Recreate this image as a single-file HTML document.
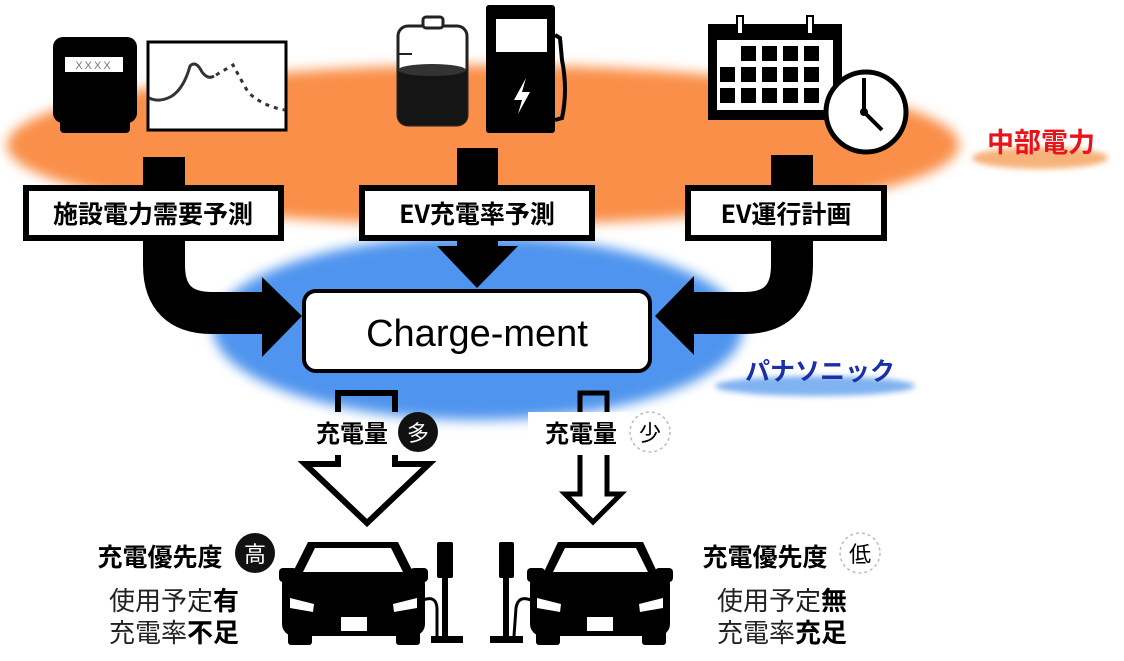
<!DOCTYPE html>
<html><head><meta charset="utf-8"><style>
html,body{margin:0;padding:0;background:#fff}
svg{display:block}
text{font-family:"Liberation Sans","Noto Sans CJK JP",sans-serif}
.j{font-family:"Noto Sans CJK JP","Liberation Sans",sans-serif}
</style></head><body>
<svg width="1124" height="661" viewBox="0 0 1124 661" xmlns="http://www.w3.org/2000/svg">
<defs>
<filter id="b" x="-20%" y="-40%" width="140%" height="180%"><feGaussianBlur stdDeviation="6"/></filter>
<filter id="b2" x="-20%" y="-50%" width="140%" height="200%"><feGaussianBlur stdDeviation="3"/></filter>
</defs>
<ellipse cx="483" cy="145" rx="476" ry="80" fill="#f98f48" filter="url(#b)"/>
<ellipse cx="1040" cy="158" rx="68" ry="11" fill="#f7b27a" filter="url(#b2)"/>
<ellipse cx="478" cy="328" rx="265" ry="92" fill="#4f94ee" filter="url(#b)"/>
<ellipse cx="815" cy="386" rx="100" ry="10" fill="#7fb2f0" filter="url(#b2)"/>

<!-- meter -->
<rect x="53" y="37" width="84" height="86" rx="10" fill="#000"/>
<rect x="60" y="110" width="70" height="23" rx="4" fill="#000"/>
<rect x="65" y="57" width="58" height="15" fill="#fff"/>
<text x="94" y="69" font-size="11" fill="#777" text-anchor="middle" letter-spacing="2">XXXX</text>
<!-- chart -->
<rect x="148" y="42" width="138" height="88" fill="#fff" stroke="#000" stroke-width="3"/>
<path d="M149 98 Q160 103 172 96 Q184 88 190 66 Q196 60 202 72 Q208 80 214 76" fill="none" stroke="#333" stroke-width="3"/>
<path d="M216 75 L233 65 Q240 78 248 92 Q262 106 285 110" fill="none" stroke="#333" stroke-width="3" stroke-dasharray="4 5"/>
<!-- battery -->
<rect x="398" y="26" width="69" height="99" rx="10" fill="#fff" stroke="#222" stroke-width="3"/>
<rect x="423" y="17" width="20" height="11" rx="3" fill="#fff" stroke="#222" stroke-width="3"/>
<path d="M398 70 Q432 62 467 70 L467 115 Q467 125 457 125 L408 125 Q398 125 398 115 Z" fill="#151515"/>
<ellipse cx="432" cy="70" rx="34" ry="6" fill="#333"/>
<line x1="398" y1="54" x2="412" y2="54" stroke="#222" stroke-width="2"/>
<!-- pump -->
<rect x="486" y="5" width="69" height="128" rx="3" fill="#000"/>
<rect x="496" y="19" width="51" height="33" fill="#fff"/>
<path d="M526 78 L514 100 L522 100 L518 114 L530 92 L522 92 Z" fill="#fff"/>
<path d="M555 35 L560 38 L562 60 Q568 90 562 118 L555 120" fill="none" stroke="#000" stroke-width="4"/>
<!-- calendar -->
<rect x="708" y="24" width="134" height="96" fill="#000"/>
<rect x="717" y="40" width="116" height="70" fill="#fff"/>
<rect x="737" y="16" width="6" height="18" fill="#fff" stroke="#000" stroke-width="2"/>
<rect x="807" y="16" width="6" height="18" fill="#fff" stroke="#000" stroke-width="2"/>
<g fill="#000">
<rect x="741" y="46" width="15" height="15"/><rect x="762" y="46" width="15" height="15"/><rect x="783" y="46" width="15" height="15"/><rect x="804" y="46" width="15" height="15"/>
<rect x="720" y="67" width="15" height="15"/><rect x="741" y="67" width="15" height="15"/><rect x="762" y="67" width="15" height="15"/><rect x="783" y="67" width="15" height="15"/><rect x="804" y="67" width="15" height="15"/>
<rect x="720" y="88" width="15" height="15"/><rect x="741" y="88" width="15" height="15"/><rect x="762" y="88" width="15" height="15"/><rect x="783" y="88" width="15" height="15"/><rect x="804" y="88" width="15" height="15"/>
</g>
<circle cx="866" cy="112" r="40" fill="#fff" stroke="#000" stroke-width="5"/>
<path d="M864 78 L864 112 L882 130" fill="none" stroke="#000" stroke-width="4"/>
<circle cx="864" cy="112" r="4"/>

<text x="1041" y="152" font-size="27" font-weight="bold" fill="#e8141c" text-anchor="middle" class="j">中部電力</text>
<text x="820" y="380" font-size="25" font-weight="bold" fill="#1a2fa8" text-anchor="middle" class="j">パナソニック</text>

<!-- arrows in -->
<path d="M164 157 L164 265 Q164 313 212 313 L265 313" fill="none" stroke="#000" stroke-width="42"/>
<polygon points="262,277 302,316 262,357" fill="#000"/>
<path d="M792 155 L792 265 Q792 313 744 313 L690 313" fill="none" stroke="#000" stroke-width="42"/>
<polygon points="694,276 655,316 694,355" fill="#000"/>
<rect x="457" y="148" width="41" height="102" fill="#000"/>
<polygon points="437,246 518,246 477,288" fill="#000"/>

<!-- label boxes -->
<rect x="26" y="188" width="255" height="50" fill="#fff" stroke="#000" stroke-width="6"/>
<text x="153" y="223" font-size="25" font-weight="bold" text-anchor="middle" class="j">施設電力需要予測</text>
<rect x="362" y="188" width="230" height="50" fill="#fff" stroke="#000" stroke-width="6"/>
<text x="477" y="223" font-size="25" font-weight="bold" text-anchor="middle" class="j">EV充電率予測</text>
<rect x="688" y="188" width="196" height="50" fill="#fff" stroke="#000" stroke-width="6"/>
<text x="786" y="223" font-size="25" font-weight="bold" text-anchor="middle" class="j">EV運行計画</text>

<!-- charge-ment -->
<rect x="304" y="291" width="346" height="80" rx="12" fill="#fff" stroke="#000" stroke-width="4"/>
<text x="477" y="346" font-size="38" text-anchor="middle">Charge-ment</text>

<!-- outflow arrows -->
<path d="M338 412 L338 393 L395 393 L395 412" fill="none" stroke="#000" stroke-width="6"/>
<path d="M338 455 L338 464 L305 464 L367 523 L429 464 L395 464 L395 455" fill="#fff" stroke="#000" stroke-width="6" stroke-linejoin="miter"/>
<text x="352" y="442" font-size="24" font-weight="bold" text-anchor="middle" class="j">充電量</text>
<circle cx="418" cy="432" r="20" fill="#111"/>
<text x="418" y="441" font-size="22" fill="#fff" text-anchor="middle" class="j">多</text>

<rect x="528" y="412" width="100" height="42" fill="#fff"/>
<path d="M580 412 L580 393 L607 393 L607 412" fill="none" stroke="#000" stroke-width="5"/>
<path d="M580 455 L580 494 L565 494 L593 522 L621 494 L607 494 L607 455" fill="#fff" stroke="#000" stroke-width="5"/>
<text x="581" y="442" font-size="24" font-weight="bold" text-anchor="middle" class="j">充電量</text>
<circle cx="650" cy="432" r="20" fill="#fff" stroke="#bbb" stroke-width="1.5" stroke-dasharray="3 3"/>
<text x="650" y="441" font-size="22" text-anchor="middle" class="j">少</text>

<!-- left car -->
<g fill="#000">
<path d="M308 542 L398 542 L414 574 L292 574 Z"/>
<rect x="282" y="572" width="143" height="64" rx="12"/>
<rect x="279" y="568" width="18" height="14" rx="4"/><rect x="410" y="568" width="18" height="14" rx="4"/>
<rect x="288" y="628" width="24" height="17" rx="3"/><rect x="396" y="628" width="24" height="17" rx="3"/>
<rect x="437" y="542" width="16" height="36" rx="2"/>
<rect x="442" y="576" width="6" height="62"/>
<rect x="431" y="636" width="32" height="7"/>
</g>
<path d="M315 548 L391 548 L403 572 L303 572 Z" fill="#fff"/>
<path d="M290 598 L314 604 L313 612 L290 608 Z" fill="#fff"/>
<path d="M417 598 L393 604 L394 612 L417 608 Z" fill="#fff"/>
<rect x="341" y="617" width="26" height="14" fill="#fff"/>
<path d="M423 600 Q436 595 437 608 L437 636" fill="none" stroke="#000" stroke-width="3"/>

<!-- right car -->
<g fill="#000">
<path d="M558 542 L643 542 L658 574 L543 574 Z"/>
<rect x="530" y="572" width="140" height="64" rx="12"/>
<rect x="527" y="568" width="18" height="14" rx="4"/><rect x="655" y="568" width="18" height="14" rx="4"/>
<rect x="536" y="628" width="24" height="17" rx="3"/><rect x="642" y="628" width="24" height="17" rx="3"/>
<rect x="499" y="542" width="15" height="36" rx="2"/>
<rect x="503" y="576" width="6" height="62"/>
<rect x="490" y="636" width="33" height="7"/>
</g>
<path d="M565 548 L636 548 L648 572 L553 572 Z" fill="#fff"/>
<path d="M537 598 L561 604 L560 612 L537 608 Z" fill="#fff"/>
<path d="M663 598 L639 604 L640 612 L663 608 Z" fill="#fff"/>
<rect x="587" y="617" width="26" height="14" fill="#fff"/>
<path d="M531 600 Q518 595 516 608 L514 636" fill="none" stroke="#000" stroke-width="3"/>

<!-- left texts -->
<text x="160" y="566" font-size="25" font-weight="bold" text-anchor="middle" class="j">充電優先度</text>
<circle cx="255" cy="553" r="20" fill="#111"/>
<text x="255" y="562" font-size="22" fill="#fff" text-anchor="middle" class="j">高</text>
<text x="174" y="610" font-size="26" text-anchor="middle" class="j" fill="#222">使用予定<tspan font-weight="bold" fill="#000">有</tspan></text>
<text x="174" y="642" font-size="26" text-anchor="middle" class="j" fill="#222">充電率<tspan font-weight="bold" fill="#000">不足</tspan></text>

<!-- right texts -->
<text x="765" y="566" font-size="25" font-weight="bold" text-anchor="middle" class="j">充電優先度</text>
<circle cx="860" cy="553" r="20" fill="#fff" stroke="#bbb" stroke-width="1.5" stroke-dasharray="3 3"/>
<text x="860" y="562" font-size="22" text-anchor="middle" class="j">低</text>
<text x="782" y="610" font-size="26" text-anchor="middle" class="j" fill="#222">使用予定<tspan font-weight="bold" fill="#000">無</tspan></text>
<text x="782" y="642" font-size="26" text-anchor="middle" class="j" fill="#222">充電率<tspan font-weight="bold" fill="#000">充足</tspan></text>
</svg>
</body></html>
